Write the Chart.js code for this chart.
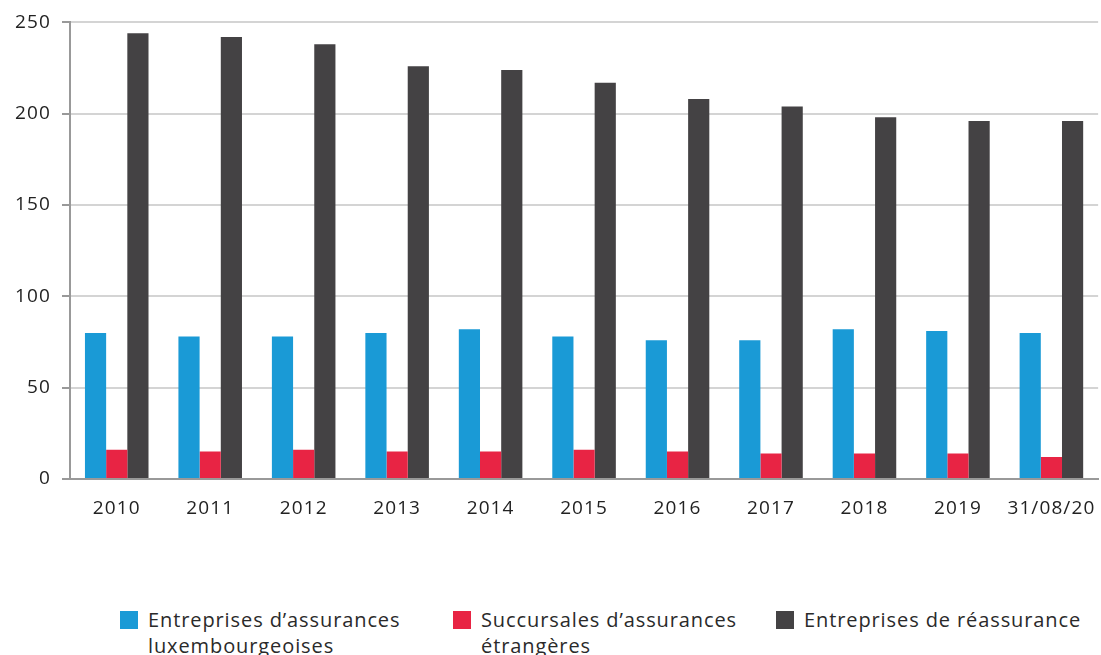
<!DOCTYPE html>
<html>
<head>
<meta charset="utf-8">
<script src="https://cdn.jsdelivr.net/npm/chart.js@4/dist/chart.umd.min.js"></script>
<style>
  body { margin: 0; background: #fff; font-family: "Open Sans", sans-serif; }
  #wrap { position: relative; width: 1101px; height: 542px; }
  #legend { position: absolute; top: 607px; left: 0; width: 1101px; }
  .item { position: absolute; display: flex; align-items: flex-start; font-size: 20px; line-height: 26px; letter-spacing: 0.9px; color: #2a2a2a; }
  .box { width: 18px; height: 18px; margin-top: 4px; margin-right: 10px; flex: none; }
</style>
</head>
<body>
<div id="wrap"><canvas id="chart"></canvas></div>
<div id="legend"></div>
<script>
// ── Données ───────────────────────────────────────────
const years  = ['2010', '2011', '2012', '2013', '2014', '2015', '2016', '2017', '2018', '2019', '31/08/20'];
const luxVal = [80, 78, 78, 80, 82, 78, 76, 76, 82, 81, 80];
const sucVal = [16, 15, 16, 15, 15, 16, 15, 14, 14, 14, 12];
const reaVal = [244, 242, 238, 226, 224, 217, 208, 204, 198, 196, 196];
const seriesNames = [
  ['Entreprises d’assurances', 'luxembourgeoises'],
  ['Succursales d’assurances', 'étrangères'],
  ['Entreprises de réassurance']
];
const colors = ['#1a9ad6', '#e82444', '#444244'];
const legendX = [120, 453, 776];

const datasets = [luxVal, sucVal, reaVal].map((d, i) => ({
  label: seriesNames[i].join(' '),
  data: d,
  backgroundColor: colors[i],
  borderWidth: 0,
  categoryPercentage: 0.68,
  barPercentage: 1.0
}));

const tickFont = { family: 'Open Sans', size: 19 };

// espacement des lettres (police d'origine plus large)
const spacing = {
  id: 'spacing',
  beforeInit: (chart) => { chart.ctx.letterSpacing = '1.1px'; },
  beforeDraw: (chart) => { chart.ctx.letterSpacing = '1.1px'; }
};

new Chart(document.getElementById('chart'), {
  type: 'bar',
  data: { labels: years, datasets: datasets },
  plugins: [spacing],
  options: {
    responsive: true,
    maintainAspectRatio: false,
    animation: false,
    layout: { padding: { top: 19, right: 1, left: 0, bottom: 0 } },
    plugins: { legend: { display: false }, tooltip: { enabled: false } },
    scales: {
      x: {
        grid: { display: false },
        border: { display: true, color: '#999', width: 2 },
        ticks: { color: '#222', font: tickFont, padding: 10, maxRotation: 0 },
        afterFit: (s) => { s.height = 63; }
      },
      y: {
        min: 0, max: 250,
        ticks: { stepSize: 50, color: '#222', font: tickFont, padding: 11 },
        grid: { color: '#d4d4d4', lineWidth: 2, tickLength: 8, tickColor: '#999' },
        border: { display: true, color: '#999', width: 2 },
        afterFit: (s) => { s.width = 70; }
      }
    }
  }
});

// ── Légende HTML ──────────────────────────────────────
const legend = document.getElementById('legend');
seriesNames.forEach((lines, i) => {
  const el = document.createElement('div');
  el.className = 'item';
  el.style.left = legendX[i] + 'px';
  el.innerHTML = '<span class="box" style="background:' + colors[i] + '"></span><span>' + lines.join('<br>') + '</span>';
  legend.appendChild(el);
});
</script>
</body>
</html>
